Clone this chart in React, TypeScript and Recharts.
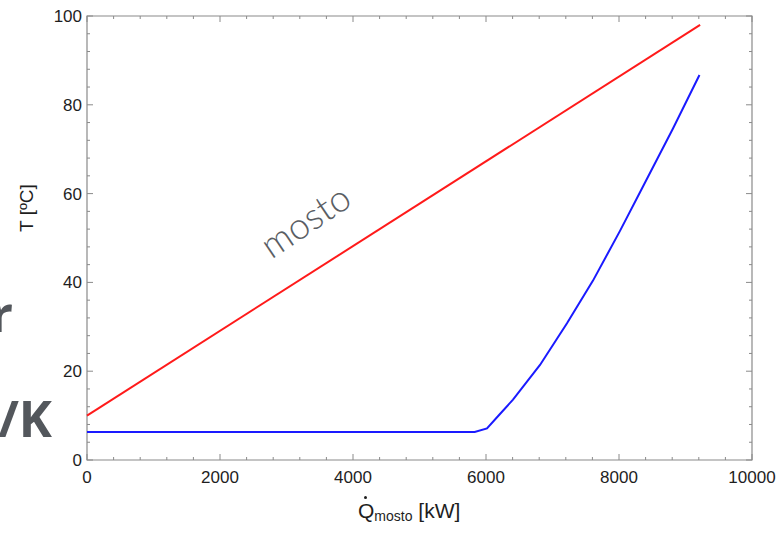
import { LineChart, Line, XAxis, YAxis, ReferenceArea } from 'recharts';

// tick positions (minor + major) and labelled ticks
const xTicks = [0, 400, 800, 1200, 1600, 2000, 2400, 2800, 3200, 3600, 4000, 4400, 4800, 5200, 5600, 6000, 6400, 6800, 7200, 7600, 8000, 8400, 8800, 9200, 9600, 10000];
const xLabels = [0, 2000, 4000, 6000, 8000, 10000];
const yTicks = [0, 4, 8, 12, 16, 20, 24, 28, 32, 36, 40, 44, 48, 52, 56, 60, 64, 68, 72, 76, 80, 84, 88, 92, 96, 100];
const yLabels = [0, 20, 40, 60, 80, 100];

// mosto (red), straight heating line
const mostoQ = [0, 9220];
const mostoT = [10, 98];

// blue curve
const coldQ = [0, 5830, 6015, 6200, 6406, 6812, 7218, 7609, 8015, 8316, 8810, 9210];
const coldT = [6.3, 6.3, 7.1, 10.2, 13.6, 21.4, 30.8, 40.4, 51.6, 60.3, 74.6, 86.7];

const mostoData = mostoQ.map((q, i) => ({ q, t: mostoT[i] }));
const coldData = coldQ.map((q, i) => ({ q, t: coldT[i] }));

const W = 782;
const H = 533;
const PLOT_W = 665;
const PLOT_H = 444;
const AXIS = '#8a8a8a';
const FONT = '"Liberation Sans", Arial, sans-serif';

const XTick = (props: any) => {
    const { x, y, payload } = props;
    const major = xLabels.includes(payload.value);
    const len = major ? 6 : 3;
    return (
        <g>
            <line x1={x} x2={x} y1={y} y2={y - len} stroke={AXIS} strokeWidth={1} />
            <line x1={x} x2={x} y1={y - PLOT_H} y2={y - PLOT_H + len} stroke={AXIS} strokeWidth={1} />
            {major && (
                <text x={x} y={y + 23} textAnchor="middle" fontSize={17} fontFamily={FONT} fill="#1e1e1e">
                    {payload.value}
                </text>
            )}
        </g>
    );
};

const YTick = (props: any) => {
    const { x, y, payload } = props;
    const major = yLabels.includes(payload.value);
    const len = major ? 6 : 3;
    return (
        <g>
            <line x1={x} x2={x + len} y1={y} y2={y} stroke={AXIS} strokeWidth={1} />
            <line x1={x + PLOT_W} x2={x + PLOT_W - len} y1={y} y2={y} stroke={AXIS} strokeWidth={1} />
            {major && (
                <text x={x - 5} y={y + 6} textAnchor="end" fontSize={17} fontFamily={FONT} fill="#1e1e1e">
                    {payload.value}
                </text>
            )}
        </g>
    );
};

export default function App() {
    return (
        <div style={{ position: 'absolute', left: 0, top: 0, width: W, height: H, background: '#fff' }}>
            <LineChart width={W} height={H} margin={{ top: 16, right: 30, bottom: 43, left: 0 }}>
                <XAxis
                    type="number"
                    dataKey="q"
                    domain={[0, 10000]}
                    ticks={xTicks}
                    interval={0}
                    tickSize={0}
                    tickMargin={0}
                    tickLine={false}
                    axisLine={false}
                    tick={<XTick />}
                    height={30}
                />
                <YAxis
                    type="number"
                    dataKey="t"
                    domain={[0, 100]}
                    ticks={yTicks}
                    interval={0}
                    tickSize={0}
                    tickMargin={0}
                    tickLine={false}
                    axisLine={false}
                    tick={<YTick />}
                    width={87}
                />
                <ReferenceArea x1={0} x2={10000} y1={0} y2={100} fill="none" fillOpacity={0} stroke={AXIS} strokeWidth={1.2} />
                <Line data={mostoData} dataKey="t" type="linear" stroke="#ff1a1a" strokeWidth={2} dot={false} isAnimationActive={false} />
                <Line data={coldData} dataKey="t" type="linear" stroke="#1a1aff" strokeWidth={2} dot={false} isAnimationActive={false} />
            </LineChart>
            <svg width={W} height={H} style={{ position: 'absolute', left: 0, top: 0, pointerEvents: 'none' }}>
                {/* pieces of slide text cut off at the left edge */}
                <text x={13} y={332} textAnchor="end" fontSize={50} fontWeight={700} fontFamily='"Open Sans", sans-serif' fill="#53575c">r</text>
                <text x={52} y={437} textAnchor="end" fontSize={50} fontWeight={700} fontFamily='"Open Sans", sans-serif' fill="#53575c">/K</text>
                <text
                    x={306}
                    y={234}
                    textAnchor="middle"
                    fontSize={37}
                    fontWeight={300}
                    fontFamily='Lato, "Open Sans", sans-serif'
                    fill="#5a5e64"
                    transform="rotate(-34 306 222)"
                >
                    mosto
                </text>
                <text x={33} y={208} textAnchor="middle" fontSize={19} fontFamily={FONT} fill="#1e1e1e" transform="rotate(-90 33 208)">
                    T [ºC]
                </text>
                <text x={358} y={518} fontSize={21} fontFamily={FONT} fill="#1e1e1e">
                    Q
                    <tspan fontSize={14} dy={3}>mosto</tspan>
                    <tspan fontSize={21} dy={-3}> [kW]</tspan>
                </text>
                <circle cx={365.5} cy={497.5} r={1.5} fill="#1e1e1e" />
            </svg>
        </div>
    );
}
